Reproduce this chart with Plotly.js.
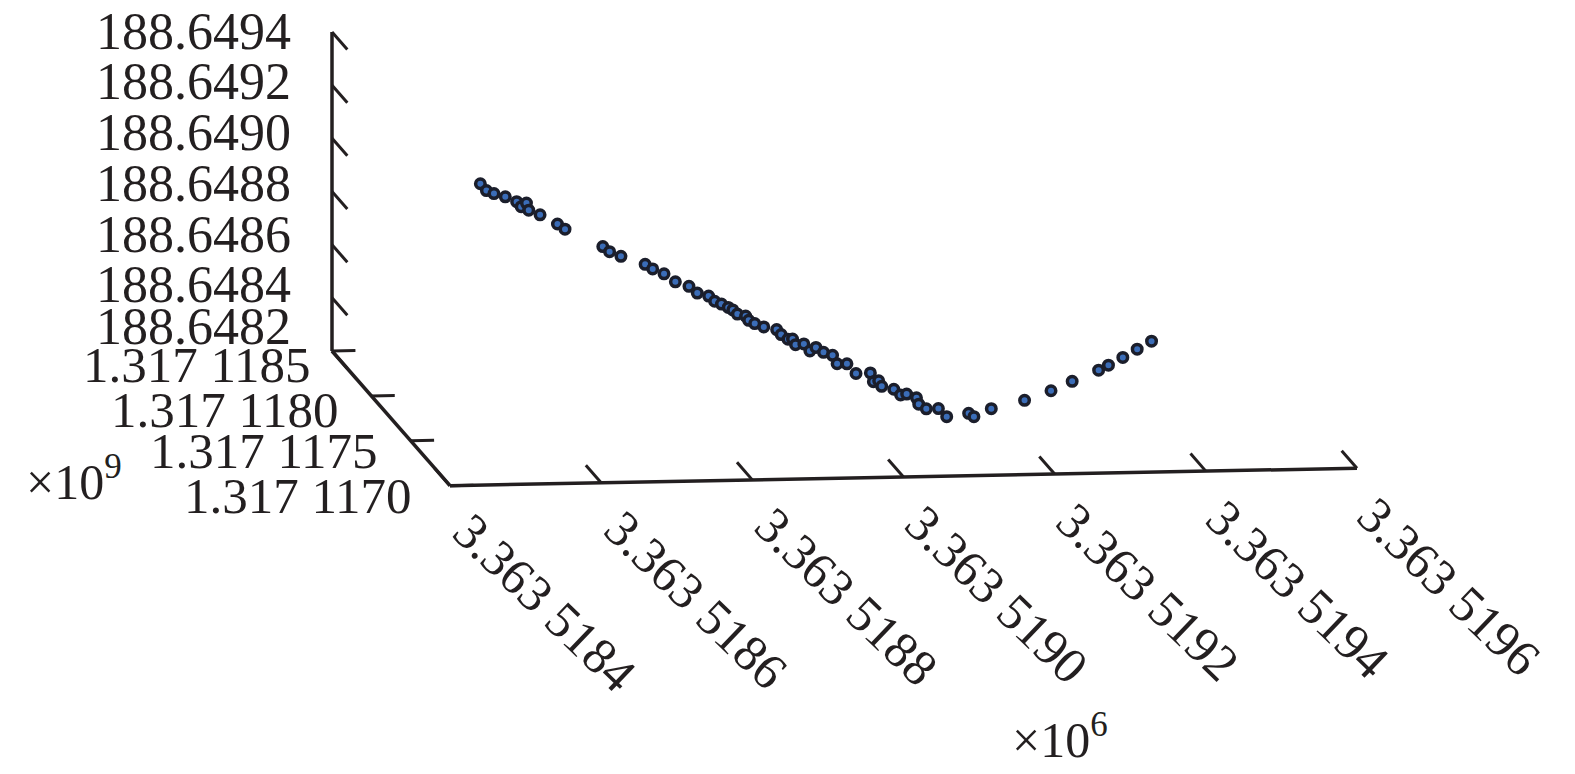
<!DOCTYPE html>
<html>
<head>
<meta charset="utf-8">
<script src="https://cdn.plot.ly/plotly-3.0.1.min.js"></script>
<style>html,body{margin:0;padding:0;background:#fff}#chart{width:1575px;height:774px}</style>
</head>
<body>
<div id="chart"></div>
<script>
// Data: trailing digits of each coordinate. x = 3.363 xxxx e6, z = 188.xxxx e9, y = 1.317 xxxx e9
const xTicks = [5184, 5186, 5188, 5190, 5192, 5194, 5196];
const yTicks = [1170, 1175, 1180, 1185];
const zTicks = [6482, 6484, 6486, 6488, 6490, 6492, 6494];
const xTickLabels = ["3.363 5184","3.363 5186","3.363 5188","3.363 5190","3.363 5192","3.363 5194","3.363 5196"];
const yTickLabels = ["1.317 1170","1.317 1175","1.317 1180","1.317 1185"];
const zTickLabels = ["188.6482","188.6484","188.6486","188.6488","188.6490","188.6492","188.6494"];

const xValues = [5184.87,5184.95,5185.05,5185.20,5185.35,5185.41,5185.48,5185.51,5185.66,5185.89,5185.99,
  5186.49,5186.58,5186.73,5187.05,5187.15,5187.30,5187.45,5187.63,5187.74,5187.89,5187.97,5188.06,5188.15,
  5188.21,5188.27,5188.38,5188.42,5188.50,5188.62,5188.79,5188.85,5188.94,5189.00,5189.04,5189.15,5189.23,
  5189.31,5189.41,5189.53,5189.59,5189.72,5189.84,5190.03,5190.07,5190.14,5190.18,5190.34,5190.43,5190.51,
  5190.64,5190.67,5190.77,5190.93,5191.04,5191.33,5191.40,5191.63,5192.07,5192.42,5192.70,5193.05,5193.18,
  5193.37,5193.56,5193.75];
const zValues = [6491.79,6491.53,6491.41,6491.28,6491.09,6490.90,6491.03,6490.76,6490.58,6490.22,6490.02,
  6489.34,6489.14,6488.96,6488.64,6488.46,6488.27,6487.96,6487.78,6487.52,6487.40,6487.20,6487.09,6486.96,
  6486.86,6486.70,6486.62,6486.46,6486.33,6486.20,6486.09,6485.90,6485.72,6485.72,6485.51,6485.53,6485.26,
  6485.39,6485.20,6485.08,6484.76,6484.75,6484.38,6484.39,6484.06,6484.09,6483.88,6483.76,6483.54,6483.57,
  6483.42,6483.18,6483.00,6483.00,6482.69,6482.80,6482.67,6482.96,6483.25,6483.59,6483.93,6484.33,6484.51,
  6484.79,6485.09,6485.38];
// y (depth) cannot be read from a single projection: the curve is taken at one depth.
const yDepth = 1174.5;

// Projection of the box on the page
const origin = [450, 485.7], ex = [907, -17.5], ey = [-118, -134.7], ez = [0, -319];
const xMin = 5184, xSpan = 12, yMin = 1170, ySpan = 15, zMin = 6482, zSpan = 12;
function project(x, y, z) {
  const u = (x - xMin) / xSpan, v = (y - yMin) / ySpan, w = (z - zMin) / zSpan;
  return [origin[0] + u * ex[0] + v * ey[0] + w * ez[0],
          origin[1] + u * ex[1] + v * ey[1] + w * ez[1]];
}
const ink = '#231f20';
const serif = '"Liberation Serif", "Times New Roman", serif';

function seg(a, b, width) {
  return {type: 'line', xref: 'x', yref: 'y', x0: a[0], y0: a[1], x1: b[0], y1: b[1],
          line: {color: ink, width: width}, layer: 'below'};
}
const yMax = yMin + ySpan, zTop = zMin + zSpan, xMax = xMin + xSpan;
const shapes = [
  seg(project(xMin, yMin, zMin), project(xMax, yMin, zMin), 3.5),
  seg(project(xMin, yMin, zMin), project(xMin, yMax, zMin), 3.5),
  seg(project(xMin, yMax, zMin), project(xMin, yMax, zTop), 3.5)
];
const depthTick = 0.13 * ySpan, sideTick = 0.31;
xTicks.forEach(t => shapes.push(seg(project(t, yMin, zMin), project(t, yMin + depthTick, zMin), 3)));
yTicks.forEach(t => shapes.push(seg(project(xMin, t, zMin), project(xMin + sideTick, t, zMin), 3)));
zTicks.forEach(t => shapes.push(seg(project(xMin, yMax, t), project(xMin, yMax - depthTick, t), 3)));

const annotations = [];
function label(text, x, y, angle, size, xanchor) {
  annotations.push({text: text, x: x, y: y, xref: 'x', yref: 'y', showarrow: false, textangle: angle || 0,
    xanchor: xanchor || 'center', yanchor: 'middle', borderpad: 0, borderwidth: 0,
    font: {family: serif, size: size, color: ink}});
}
// x labels hang off their ticks
const xLabelOffset = [93, 117];
xTicks.forEach((t, i) => {
  const p = project(t, yMin, zMin);
  label(xTickLabels[i], p[0] + xLabelOffset[0] + 2 - i * 0.5, p[1] + xLabelOffset[1] + i * 0.3, 44, 51);
});
// y and z labels: hand-placed in the source figure
const yLabelCenters = [[298, 495.5], [263.5, 451], [225, 410], [197, 365]];
yTickLabels.forEach((s, i) => label(s, yLabelCenters[i][0], yLabelCenters[i][1], 0, 51));
const zLabelMiddles = [326.5, 284.5, 234, 183.5, 132, 81.5, 31];
zTickLabels.forEach((s, i) => label(s, 193.5, zLabelMiddles[i], 0, 52));
label('×10<sup>9</sup>', 26, 478, 0, 50, 'left');
label('×10<sup>6</sup>', 1012, 736, 0, 50, 'left');

const pts = xValues.map((x, i) => project(x, yDepth, zValues[i]));
const trace = {
  type: 'scatter', mode: 'markers', hoverinfo: 'skip',
  x: pts.map(p => p[0]), y: pts.map(p => p[1]),
  marker: {size: 9.5, color: '#3b6db8', line: {color: '#1b1e2b', width: 3.5}}
};

Plotly.newPlot('chart', [trace], {
  width: 1575, height: 774, showlegend: false,
  margin: {l: 0, r: 0, t: 0, b: 0},
  paper_bgcolor: '#fff', plot_bgcolor: '#fff',
  xaxis: {range: [0, 1575], visible: false, fixedrange: true},
  yaxis: {range: [774, 0], visible: false, fixedrange: true},
  shapes: shapes, annotations: annotations
}, {displayModeBar: false, staticPlot: true});
</script>
</body>
</html>
